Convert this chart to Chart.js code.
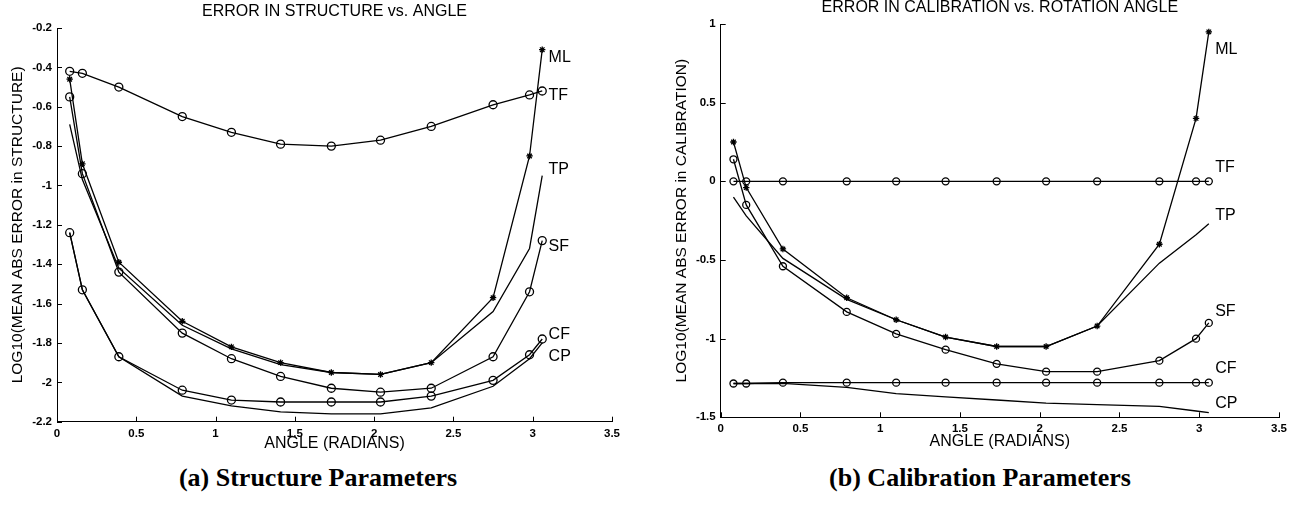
<!DOCTYPE html>
<html lang="en">
<head>
  <meta charset="UTF-8" />
  <title>Error vs. Angle</title>
  <script src="https://cdn.jsdelivr.net/npm/chart.js@4"></script>
  <style>
    body { margin: 0; background: #fff; }
    #page { position: relative; width: 1305px; height: 506px; overflow: hidden; }
    canvas { position: absolute; top: 0; }
    #structChart { left: 0; }
    #calibChart { left: 650px; }
    .caption {
      position: absolute;
      top: 465px;
      font: bold 26px "Liberation Serif", "Times New Roman", serif;
      line-height: 1;
      white-space: nowrap;
      transform: translateX(-50%);
    }
  </style>
</head>
<body>
  <div id="page">
    <canvas id="structChart" width="650" height="460"></canvas>
    <canvas id="calibChart" width="655" height="460"></canvas>
    <div class="caption" style="left: 318px;">(a) Structure Parameters</div>
    <div class="caption" style="left: 980px;">(b) Calibration Parameters</div>
  </div>

  <script>
    // rotation angles (radians) shared by every curve
    const angles = [0.08, 0.16, 0.39, 0.79, 1.10, 1.41, 1.73, 2.04, 2.36, 2.75, 2.98, 3.06];
    const seriesNames = ['ML', 'TF', 'TP', 'SF', 'CF', 'CP'];

    // (a) log10 mean abs error in structure
    const structML = [-0.46, -0.89, -1.39, -1.69, -1.82, -1.90, -1.95, -1.96, -1.90, -1.57, -0.85, -0.31];
    const structTF = [-0.42, -0.43, -0.50, -0.65, -0.73, -0.79, -0.80, -0.77, -0.70, -0.59, -0.54, -0.52];
    const structTP = [-0.69, -0.97, -1.42, -1.71, -1.83, -1.91, -1.95, -1.96, -1.90, -1.64, -1.32, -0.95];
    const structSF = [-0.55, -0.94, -1.44, -1.75, -1.88, -1.97, -2.03, -2.05, -2.03, -1.87, -1.54, -1.28];
    const structCF = [-1.24, -1.53, -1.87, -2.04, -2.09, -2.10, -2.10, -2.10, -2.07, -1.99, -1.86, -1.78];
    const structCP = [-1.24, -1.53, -1.87, -2.07, -2.12, -2.15, -2.16, -2.16, -2.13, -2.02, -1.88, -1.80];

    // (b) log10 mean abs error in calibration
    const calibML = [0.25, -0.04, -0.43, -0.74, -0.88, -0.99, -1.05, -1.05, -0.92, -0.40, 0.40, 0.95];
    const calibTF = [0, 0, 0, 0, 0, 0, 0, 0, 0, 0, 0, 0];
    const calibTP = [-0.10, -0.22, -0.49, -0.75, -0.88, -0.99, -1.05, -1.05, -0.92, -0.52, -0.34, -0.27];
    const calibSF = [0.14, -0.15, -0.54, -0.83, -0.97, -1.07, -1.16, -1.21, -1.21, -1.14, -1.00, -0.90];
    const calibCF = [-1.285, -1.285, -1.28, -1.28, -1.28, -1.28, -1.28, -1.28, -1.28, -1.28, -1.28, -1.28];
    const calibCP = [-1.285, -1.285, -1.285, -1.31, -1.35, -1.37, -1.39, -1.41, -1.42, -1.43, -1.46, -1.47];

    // tick labels
    const xTicks = [0, 0.5, 1, 1.5, 2, 2.5, 3, 3.5];
    const structYTicks = [-2.2, -2, -1.8, -1.6, -1.4, -1.2, -1, -0.8, -0.6, -0.4, -0.2];
    const calibYTicks = [-1.5, -1, -0.5, 0, 0.5, 1];

    const markers = ['star', 'circle', null, 'circle', 'circle', null];
    const sans = '"Liberation Sans", Arial, Helvetica, sans-serif';
    const tickFont = { family: sans, size: 11.5, weight: 'bold' };

    // MATLAB style ticks pointing into the plot
    const innerTicks = {
      id: 'innerTicks',
      afterDraw(chart) {
        const { ctx, chartArea, scales: { x, y } } = chart;
        ctx.save();
        ctx.strokeStyle = '#000';
        ctx.lineWidth = 1;
        ctx.beginPath();
        x.ticks.forEach(t => {
          const px = Math.round(x.getPixelForValue(t.value)) + 0.5;
          ctx.moveTo(px, chartArea.bottom);
          ctx.lineTo(px, chartArea.bottom - 5);
        });
        y.ticks.forEach(t => {
          const py = Math.round(y.getPixelForValue(t.value)) + 0.5;
          ctx.moveTo(chartArea.left, py);
          ctx.lineTo(chartArea.left + 5, py);
        });
        ctx.stroke();
        ctx.restore();
      }
    };

    // curve names written next to the right ends
    const endLabels = {
      id: 'endLabels',
      afterDatasetsDraw(chart, args, opts) {
        const { ctx, scales: { x, y } } = chart;
        ctx.save();
        ctx.font = '16px ' + sans;
        ctx.fillStyle = '#000';
        ctx.textBaseline = 'middle';
        chart.data.datasets.forEach((ds, i) => {
          ctx.fillText(ds.label, x.getPixelForValue(opts.x), y.getPixelForValue(opts.y[i]));
        });
        ctx.restore();
      }
    };

    function makeDatasets(seriesList, circleRadius) {
      return seriesList.map((values, i) => ({
        label: seriesNames[i],
        data: angles.map((a, j) => ({ x: a, y: values[j] })),
        borderColor: '#000',
        borderWidth: 1.3,
        backgroundColor: 'transparent',
        pointStyle: markers[i] || 'circle',
        pointRadius: markers[i] === 'star' ? 3.2 : (markers[i] ? circleRadius : 0),
        pointBorderColor: '#000',
        pointBackgroundColor: 'transparent',
        pointBorderWidth: 1.3,
        tension: 0,
        fill: false,
        clip: false
      }));
    }

    function makeOptions(cfg) {
      return {
        responsive: false,
        animation: false,
        events: [],
        layout: { padding: { left: 0, right: cfg.padRight, top: 0, bottom: 0 } },
        plugins: {
          legend: { display: false },
          tooltip: { enabled: false },
          title: {
            display: true,
            text: cfg.title,
            fullSize: false,
            color: '#000',
            font: { family: sans, size: 16, weight: 'normal', lineHeight: 1 },
            padding: cfg.titlePad
          },
          endLabels: { x: 3.1, y: cfg.labelY }
        },
        scales: {
          x: {
            type: 'linear',
            min: 0,
            max: 3.5,
            afterBuildTicks: s => { s.ticks = xTicks.map(v => ({ value: v })); },
            afterFit: s => { s.height = cfg.xHeight; },
            grid: { display: false, drawTicks: false },
            border: { display: true, color: '#000', width: 1 },
            ticks: { color: '#000', padding: 5, autoSkip: false, maxRotation: 0, font: tickFont, callback: v => String(v) },
            title: {
              display: true,
              text: 'ANGLE (RADIANS)',
              color: '#000',
              font: { family: sans, size: 16, lineHeight: 1 },
              padding: { top: 0, bottom: cfg.xTitleBottom }
            }
          },
          y: {
            min: cfg.yTicks[0],
            max: cfg.yTicks[cfg.yTicks.length - 1],
            afterBuildTicks: s => { s.ticks = cfg.yTicks.map(v => ({ value: v })); },
            afterFit: s => { s.width = cfg.yWidth; },
            grid: { display: false, drawTicks: false },
            border: { display: true, color: '#000', width: 1 },
            ticks: { color: '#000', padding: 5, autoSkip: false, font: tickFont, callback: v => String(v) },
            title: {
              display: true,
              text: cfg.yTitle,
              color: '#000',
              font: { family: sans, size: 15.5, lineHeight: 1 },
              padding: { top: cfg.yTitleTop, bottom: 0 }
            }
          }
        }
      };
    }

    new Chart(document.getElementById('structChart'), {
      type: 'line',
      data: { datasets: makeDatasets([structML, structTF, structTP, structSF, structCF, structCP], 4) },
      options: makeOptions({
        title: 'ERROR IN STRUCTURE vs. ANGLE',
        titlePad: { top: 4, bottom: 8 },
        yTitle: 'LOG10(MEAN ABS ERROR in STRUCTURE)',
        yTicks: structYTicks,
        yWidth: 57,
        yTitleTop: 10,
        xHeight: 38.3,
        xTitleBottom: 8,
        padRight: 38,
        labelY: [-0.35, -0.545, -0.92, -1.31, -1.76, -1.87]
      }),
      plugins: [innerTicks, endLabels]
    });

    new Chart(document.getElementById('calibChart'), {
      type: 'line',
      data: { datasets: makeDatasets([calibML, calibTF, calibTP, calibSF, calibCF, calibCP], 3.5) },
      options: makeOptions({
        title: 'ERROR IN CALIBRATION vs. ROTATION ANGLE',
        titlePad: { top: 0, bottom: 8 },
        yTitle: 'LOG10(MEAN ABS ERROR in CALIBRATION)',
        yTicks: calibYTicks,
        yWidth: 70.7,
        yTitleTop: 23.5,
        xHeight: 42.7,
        xTitleBottom: 10,
        padRight: 26,
        labelY: [0.84, 0.09, -0.22, -0.83, -1.19, -1.41]
      }),
      plugins: [innerTicks, endLabels]
    });
  </script>
</body>
</html>
